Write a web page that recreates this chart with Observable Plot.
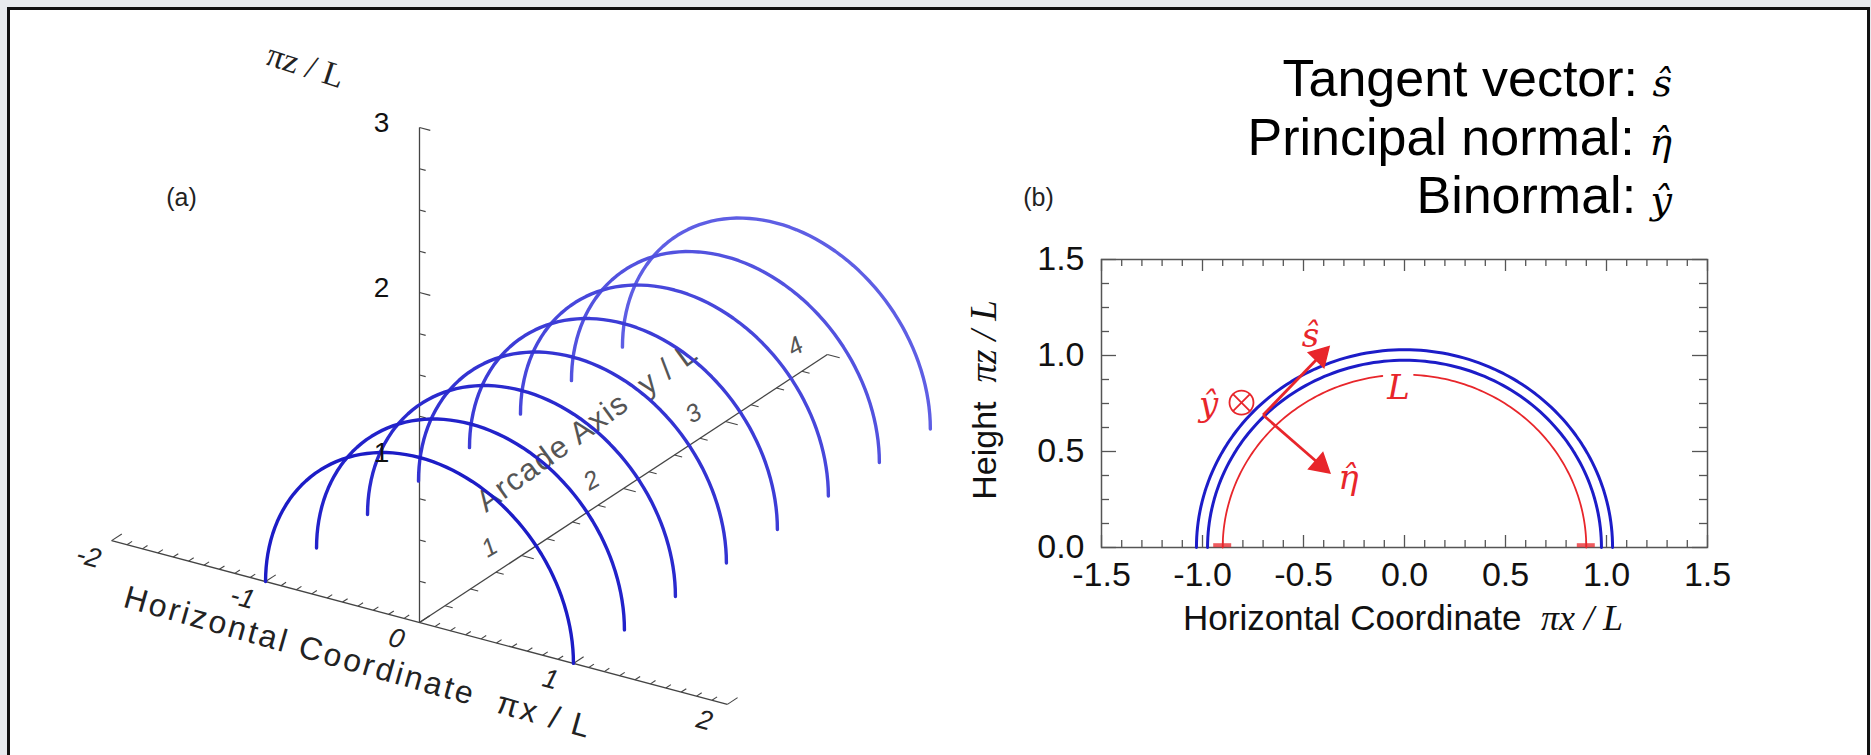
<!DOCTYPE html>
<html><head><meta charset="utf-8">
<script src="https://cdn.jsdelivr.net/npm/d3@7"></script>
<script src="https://cdn.jsdelivr.net/npm/@observablehq/plot@0.6"></script>
<style>
html,body{margin:0;padding:0;}
body{width:1871px;height:755px;overflow:hidden;background:#e8eaee;position:relative;font-family:"Liberation Sans",Arial,sans-serif;}
#box{position:absolute;left:7px;top:7px;width:1863px;height:800px;background:#fff;border:3px solid #111;box-sizing:border-box;}
.layer{position:absolute;left:0;top:0;}
</style></head><body>
<div id="box"></div>
<div id="pa" class="layer"></div>
<div id="pb" class="layer"></div>
<script>
// ---------------- DATA ----------------
// Panel (a): arcade of semicircular loops along the arcade axis
const arcY = [0, 0.5, 1, 1.5, 2, 2.5, 3, 3.5];
const arcRadius = 1;
const arcColors = ["#1c1cc6", "#2222ca", "#2a2ace", "#3333d2", "#3c3cd6", "#4747db", "#5252df", "#5e5ee4"];
const xTickLabelsA = [-2, -1, 0, 1, 2];
const yTickLabelsA = [1, 2, 3, 4];
const zTickLabelsA = [1, 2, 3];
// Panel (b): loop cross-section
const blueRadii = [0.975, 1.03];
const redRadius = 0.9;
const redSegmentsDeg = [[0, 87], [97, 180]];
const redFeet = [-0.9, 0.9];
const xTicksB = [-1.5, -1.0, -0.5, 0.0, 0.5, 1.0, 1.5];
const yTicksB = [0.0, 0.5, 1.0, 1.5];
const vecOrigin = {x: -0.70, y: 0.69};
const vecTips = [{name: "s", x: -0.416, y: 1.0}, {name: "eta", x: -0.416, y: 0.43}];
const vecLabels = [
  {text: "s\u0302", x: -0.465, y: 1.10},
  {text: "y\u0302", x: -0.97, y: 0.74},
  {text: "\u03B7\u0302", x: -0.277, y: 0.36},
  {text: "L", x: -0.03, y: 0.83}
];
const binormalMark = [{x: -0.807, y: 0.755}];
const legendLines = [
  {label: "Tangent vector: ", sym: "s\u0302"},
  {label: "Principal normal: ", sym: "\u03B7\u0302"},
  {label: "Binormal: ", sym: "y\u0302"}
];

const RED = "#e8262b", BLUE = "#1c1cc8", AX = "#444";
const W = 1871, H = 755;
const SYMFONT = "DejaVu Serif, Liberation Serif, serif";

// ---------------- PANEL (a) ----------------
const proj = (x, y, z) => ({u: 0.933 * x + 0.618 * y, v: -0.248 * x + 0.406 * y + z});
const OX = 419, OY = 622, UNIT = 165;

const arcs = arcY.flatMap((yk, k) => d3.range(0, 73).map(i => {
  const t = Math.PI * i / 72;
  const p = proj(arcRadius * Math.cos(t), yk, arcRadius * Math.sin(t));
  return {k, u: p.u, v: p.v, c: arcColors[k]};
})).reverse();

const axesA = [
  [proj(-2, 0, 0), proj(2, 0, 0)],
  [proj(0, 0, 0), proj(0, 4, 0)],
  [proj(0, 0, 0), proj(0, 0, 3)]
];
const ticksA = [
  ...d3.range(-20, 21).map(i => i / 10).map(x => { const L = Number.isInteger(x) ? 0.1 : 0.05; return [proj(x, 0, 0), proj(x, L, 0)]; }),
  ...d3.range(1, 17).map(i => i / 4).map(y => { const L = Number.isInteger(y) ? 0.08 : 0.05; return [proj(0, y, 0), proj(L, y, 0)]; }),
  ...d3.range(1, 13).map(i => i / 4).map(z => { const L = Number.isInteger(z) ? 0.07 : 0.04; return [proj(0, 0, z), proj(L, 0, z)]; })
];

const pa = Plot.plot({
  width: W, height: H, margin: 0,
  x: {domain: [-OX / UNIT, (W - OX) / UNIT], axis: null},
  y: {domain: [(OY - H) / UNIT, OY / UNIT], axis: null},
  color: {type: "identity"},
  style: {background: "transparent", fontFamily: "Liberation Sans, Arial, sans-serif", color: "#222"},
  marks: [
    Plot.link(axesA, {x1: d => d[0].u, y1: d => d[0].v, x2: d => d[1].u, y2: d => d[1].v, stroke: AX, strokeWidth: 1.3}),
    Plot.link(ticksA, {x1: d => d[0].u, y1: d => d[0].v, x2: d => d[1].u, y2: d => d[1].v, stroke: AX, strokeWidth: 1.1}),
    Plot.text(xTickLabelsA, {x: d => proj(d, 0, 0).u, y: d => proj(d, 0, 0).v, text: d => String(d), dx: -23, dy: 16, rotate: 15, fontStyle: "italic", fontSize: 27, fill: "#222"}),
    Plot.text(yTickLabelsA, {x: d => proj(0, d, 0).u, y: d => proj(0, d, 0).v, text: d => String(d), dx: -32, dy: -8, rotate: -30, fontStyle: "italic", fontSize: 25, fill: "#555"}),
    Plot.text(["Horizontal Coordinate  \u03C0x / L"], {x: proj(0, -0.6, 0).u, y: proj(0, -0.6, 0).v, text: d => d, rotate: 15.8, fontSize: 32, fill: "#222"}),
    Plot.text(["Arcade Axis  y / L"], {x: proj(-0.6, 2.55, 0).u, y: proj(-0.6, 2.55, 0).v, text: d => d, rotate: -36, fontSize: 31, fill: "#555"}),
    Plot.line(arcs, {x: "u", y: "v", z: "k", stroke: "c", strokeWidth: 3.4, curve: "linear"}),
    Plot.text(zTickLabelsA, {x: d => proj(0, 0, d).u, y: d => proj(0, 0, d).v, text: d => String(d), dx: -38, dy: -4, fontSize: 28, fill: "#111"}),
    Plot.text(["\u03C0z / L"], {x: proj(-0.74, 0, 3.19).u, y: proj(-0.74, 0, 3.19).v, text: d => d, rotate: 18, fontSize: 34, fontFamily: "Liberation Serif, serif", fill: "#222"}),
    Plot.text(["(a)"], {x: (181 - OX) / UNIT, y: (OY - 197) / UNIT, text: d => d, fontSize: 25, fill: "#222"})
  ]
});
document.getElementById("pa").appendChild(pa);
d3.select(pa).selectAll("text").filter(function () { return this.textContent.startsWith("Horizontal"); }).attr("letter-spacing", 2.6);
d3.select(pa).selectAll("text").filter(function () { return this.textContent.startsWith("Arcade"); }).attr("letter-spacing", 1.4);

// ---------------- PANEL (b) ----------------
const arcPts = (r, t0, t1, n = 120) => d3.range(n + 1).map(i => { const t = t0 + (t1 - t0) * i / n; return {x: r * Math.cos(t), y: r * Math.sin(t)}; });
const blueArcs = blueRadii.flatMap((r, k) => arcPts(r, 0, Math.PI).map(p => ({...p, k})));
const redArcs = redSegmentsDeg.flatMap(([a0, a1], k) => arcPts(redRadius, a0 * Math.PI / 180, a1 * Math.PI / 180, 80).map(p => ({...p, k})));
const xMinorB = d3.range(-15, 16).map(i => i / 10);
const yMinorB = d3.range(0, 13).map(i => i / 8);
const isMajor = v => Math.abs(v * 2 - Math.round(v * 2)) < 1e-9;
const SX = 606 / 3, SY = 288 / 1.5;
const headRot = d => Math.atan2((d.x - vecOrigin.x) * SX, (d.y - vecOrigin.y) * SY) * 180 / Math.PI;
const TK = "#555";

const pb = Plot.plot({
  width: W, height: H,
  marginLeft: 1101, marginRight: W - 1707, marginTop: 259, marginBottom: H - 547,
  x: {domain: [-1.5, 1.5], axis: null},
  y: {domain: [0, 1.5], axis: null},
  style: {background: "transparent", fontFamily: "Liberation Sans, Arial, sans-serif", color: "#111", overflow: "visible"},
  marks: [
    Plot.frame({stroke: TK, strokeWidth: 1.5}),
    // inward ticks bottom/top
    Plot.ruleX(xMinorB.filter(v => !isMajor(v)), {x: d => d, y1: 0, y2: 0, insetBottom: 7, stroke: TK, strokeWidth: 1.3}),
    Plot.ruleX(xMinorB.filter(isMajor), {x: d => d, y1: 0, y2: 0, insetBottom: 12, stroke: TK, strokeWidth: 1.3}),
    Plot.ruleX(xMinorB.filter(v => !isMajor(v)), {x: d => d, y1: 1.5, y2: 1.5, insetTop: 7, stroke: TK, strokeWidth: 1.3}),
    Plot.ruleX(xMinorB.filter(isMajor), {x: d => d, y1: 1.5, y2: 1.5, insetTop: 12, stroke: TK, strokeWidth: 1.3}),
    // inward ticks left/right
    Plot.ruleY(yMinorB.filter(v => !isMajor(v)), {y: d => d, x1: -1.5, x2: -1.5, insetLeft: 8, stroke: TK, strokeWidth: 1.3}),
    Plot.ruleY(yMinorB.filter(isMajor), {y: d => d, x1: -1.5, x2: -1.5, insetLeft: 15, stroke: TK, strokeWidth: 1.3}),
    Plot.ruleY(yMinorB.filter(v => !isMajor(v)), {y: d => d, x1: 1.5, x2: 1.5, insetRight: 8, stroke: TK, strokeWidth: 1.3}),
    Plot.ruleY(yMinorB.filter(isMajor), {y: d => d, x1: 1.5, x2: 1.5, insetRight: 15, stroke: TK, strokeWidth: 1.3}),
    // tick labels
    Plot.text(xTicksB, {x: d => d, y: 0, text: d => d.toFixed(1), dy: 28, fontSize: 34, fill: "#111"}),
    Plot.text(yTicksB, {x: -1.5, y: d => d, text: d => d.toFixed(1), textAnchor: "end", dx: -17, fontSize: 34, fill: "#111"}),
    // loops
    Plot.line(blueArcs, {x: "x", y: "y", z: "k", stroke: BLUE, strokeWidth: 3}),
    Plot.line(redArcs, {x: "x", y: "y", z: "k", stroke: RED, strokeWidth: 1.8}),
    Plot.ruleY(redFeet, {x1: d => d, x2: d => d, y: 0.012, insetLeft: -9, insetRight: -9, stroke: RED, strokeWidth: 4, strokeOpacity: 0.75}),
    // vectors
    Plot.link(vecTips, {x1: vecOrigin.x, y1: vecOrigin.y, x2: "x", y2: "y", stroke: RED, strokeWidth: 2.8}),
    Plot.dot(vecTips, {x: "x", y: "y", symbol: "triangle", r: 8, fill: RED, stroke: RED, rotate: headRot}),
    Plot.dot(binormalMark, {x: "x", y: "y", r: 12, stroke: RED, strokeWidth: 1.8, fill: "none"}),
    Plot.dot(binormalMark, {x: "x", y: "y", symbol: "times", r: 8, stroke: RED, strokeWidth: 1.8}),
    Plot.text(vecLabels, {x: "x", y: "y", text: "text", fill: RED, fontSize: 34, fontStyle: "italic", fontFamily: SYMFONT}),
    Plot.text(["(b)"], {x: -1.5, y: 1.5, text: d => d, dx: -63, dy: -62, fontSize: 25, fill: "#222"})
  ]
});
document.getElementById("pb").appendChild(pb);

// axis titles and legend (rich text with mixed fonts)
const svgB = d3.select(pb);
const xt = svgB.append("text").attr("x", 1403).attr("y", 630).attr("text-anchor", "middle").attr("fill", "#111");
xt.append("tspan").attr("font-family", "Liberation Sans, Arial, sans-serif").attr("font-size", 35).text("Horizontal Coordinate  ");
xt.append("tspan").attr("font-family", "Liberation Serif, serif").attr("font-style", "italic").attr("font-size", 36).text("\u03C0x / L");
const yt = svgB.append("text").attr("transform", "translate(996,400) rotate(-90)").attr("text-anchor", "middle").attr("fill", "#111");
yt.append("tspan").attr("font-family", "Liberation Sans, Arial, sans-serif").attr("font-size", 34).text("Height  ");
yt.append("tspan").attr("font-family", "Liberation Serif, serif").attr("font-style", "italic").attr("font-size", 37).text("\u03C0z / L");

const baselines = [96, 155, 213];
legendLines.forEach((l, i) => {
  const t = svgB.append("text").attr("x", 1672).attr("y", baselines[i]).attr("text-anchor", "end").attr("fill", "#000");
  t.append("tspan").attr("font-family", "Liberation Sans, Arial, sans-serif").attr("font-size", 52).text(l.label);
  t.append("tspan").attr("font-family", SYMFONT).attr("font-style", "italic").attr("font-size", 38).text(l.sym);
});
</script></body></html>
